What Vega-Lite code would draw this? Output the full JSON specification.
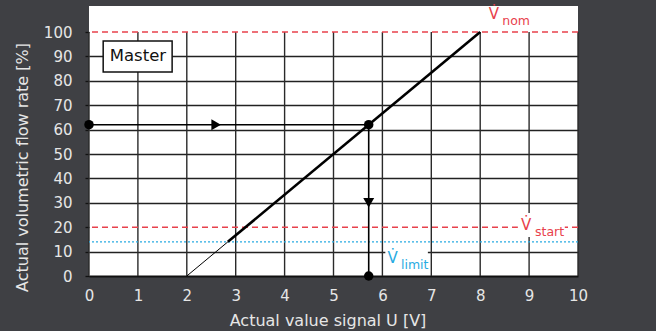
{
  "$schema": "https://vega.github.io/schema/vega-lite/v6.json",
  "width": 489,
  "height": 270,
  "autosize": {"type": "none"},
  "padding": {"left": 89, "top": 6, "right": 78, "bottom": 55},
  "background": "#3f4044",
  "config": {"view": {"fill": "white", "stroke": null}, "font": "DejaVu Sans"},
  "datasets": {
    "grid": [{"u": 0}, {"u": 1}, {"u": 2}, {"u": 3}, {"u": 4}, {"u": 5}, {"u": 6}, {"u": 7}, {"u": 8}, {"u": 9}, {"u": 10}],
    "refs": [{"v": 100}, {"v": 20}],
    "segs": [
      {"x": 2, "y": 0, "x2": 2.84, "y2": 14, "kind": "thin"},
      {"x": 2.84, "y": 14, "x2": 8, "y2": 100, "kind": "thick"},
      {"x": 0, "y": 62, "x2": 5.72, "y2": 62, "kind": "arrow"},
      {"x": 5.72, "y": 62, "x2": 5.72, "y2": 0, "kind": "arrow"}
    ],
    "masks": [
      {"x": 8.77, "x2": 9.73, "y": 16, "y2": 25.8},
      {"x": 6.06, "x2": 6.93, "y": 2.5, "y2": 12.5}
    ],
    "box": [{"x": 0.29, "x2": 1.7, "y": 83.6, "y2": 96.3, "t": "Master", "cx": 1.0, "cy": 90}],
    "pts": [
      {"x": 0, "y": 62, "kind": "dot"},
      {"x": 5.72, "y": 62, "kind": "dot"},
      {"x": 5.72, "y": 0, "kind": "dot"},
      {"x": 2.6, "y": 62, "kind": "right"},
      {"x": 5.72, "y": 30, "kind": "down"}
    ],
    "labels": [
      {"x": 8.28, "y": 105.3, "t": "V\u0307", "grp": "nom", "part": "main"},
      {"x": 8.45, "y": 102.9, "t": "nom", "grp": "nom", "part": "sub"},
      {"x": 8.94, "y": 18.9, "t": "V\u0307", "grp": "start", "part": "main"},
      {"x": 9.12, "y": 16.4, "t": "start", "grp": "start", "part": "sub"},
      {"x": 6.21, "y": 5.3, "t": "V\u0307", "grp": "limit", "part": "main"},
      {"x": 6.38, "y": 2.9, "t": "limit", "grp": "limit", "part": "sub"}
    ]
  },
  "layer": [
    {
      "data": {"name": "grid"},
      "mark": {"type": "rule", "color": "#2a2a2a", "strokeWidth": 1.4},
      "encoding": {
        "x": {
          "field": "u", "type": "quantitative",
          "scale": {"domain": [0, 10], "nice": false},
          "axis": {
            "title": "Actual value signal U [V]",
            "values": [0, 1, 2, 3, 4, 5, 6, 7, 8, 9, 10],
            "grid": false, "ticks": false,
            "domain": true, "domainColor": "#111", "domainWidth": 2,
            "labelColor": "#e6e6e6", "labelFontSize": 15, "labelPadding": 12, "labelFlush": false, "labelOverlap": false,
            "titleColor": "#e6e6e6", "titleFontSize": 16, "titleFontWeight": "normal",
            "titleX": 238.5, "titleY": 49, "titleBaseline": "alphabetic"
          }
        },
        "y": {"datum": 0, "type": "quantitative", "scale": {"domain": [0, 110.66], "nice": false}},
        "y2": {"datum": 100}
      }
    },
    {
      "data": {"name": "refs"},
      "mark": {"type": "rule", "color": "#e8414c", "strokeWidth": 1.4, "strokeDash": [6, 4]},
      "encoding": {
        "y": {
          "field": "v", "type": "quantitative",
          "axis": {
            "title": "Actual volumetric flow rate [%]",
            "values": [0, 10, 20, 30, 40, 50, 60, 70, 80, 90, 100],
            "tickCount": 11,
            "domain": false,
            "grid": true, "gridColor": "#222", "gridWidth": 1.3,
            "gridOpacity": {"condition": {"test": "datum.value == 0 || datum.value == 20 || datum.value == 100", "value": 0}, "value": 1},
            "ticks": true, "tickSize": 4, "tickColor": "#111", "tickWidth": 1.3,
            "labelColor": "#e6e6e6", "labelFontSize": 15, "labelPadding": 13, "labelOverlap": false,
            "titleColor": "#e6e6e6", "titleFontSize": 16, "titleFontWeight": "normal",
            "titleX": -67, "titleY": 161, "titleBaseline": "middle"
          }
        }
      }
    },
    {
      "data": {"values": [{"v": 14}]},
      "mark": {"type": "rule", "color": "#29abe2", "strokeWidth": 1.3, "strokeDash": [2, 2]},
      "encoding": {"y": {"field": "v", "type": "quantitative"}}
    },
    {
      "data": {"name": "masks"},
      "mark": {"type": "rect", "fill": "white"},
      "encoding": {
        "x": {"field": "x", "type": "quantitative"},
        "x2": {"field": "x2"},
        "y": {"field": "y", "type": "quantitative"},
        "y2": {"field": "y2"}
      }
    },
    {
      "data": {"name": "segs"},
      "transform": [{"filter": "datum.kind == 'thin'"}],
      "mark": {"type": "rule", "color": "#000", "strokeWidth": 1},
      "encoding": {
        "x": {"field": "x", "type": "quantitative"},
        "x2": {"field": "x2"},
        "y": {"field": "y", "type": "quantitative"},
        "y2": {"field": "y2"}
      }
    },
    {
      "data": {"name": "segs"},
      "transform": [{"filter": "datum.kind == 'thick'"}],
      "mark": {"type": "rule", "color": "#000", "strokeWidth": 2.6},
      "encoding": {
        "x": {"field": "x", "type": "quantitative"},
        "x2": {"field": "x2"},
        "y": {"field": "y", "type": "quantitative"},
        "y2": {"field": "y2"}
      }
    },
    {
      "data": {"name": "segs"},
      "transform": [{"filter": "datum.kind == 'arrow'"}],
      "mark": {"type": "rule", "color": "#000", "strokeWidth": 1.6},
      "encoding": {
        "x": {"field": "x", "type": "quantitative"},
        "x2": {"field": "x2"},
        "y": {"field": "y", "type": "quantitative"},
        "y2": {"field": "y2"}
      }
    },
    {
      "data": {"name": "box"},
      "mark": {"type": "rect", "fill": "white", "stroke": "#111", "strokeWidth": 1.5},
      "encoding": {
        "x": {"field": "x", "type": "quantitative"},
        "x2": {"field": "x2"},
        "y": {"field": "y", "type": "quantitative"},
        "y2": {"field": "y2"}
      }
    },
    {
      "data": {"name": "box"},
      "mark": {"type": "text", "fontSize": 16.5, "color": "#111", "align": "center", "baseline": "middle"},
      "encoding": {
        "x": {"field": "cx", "type": "quantitative"},
        "y": {"field": "cy", "type": "quantitative"},
        "text": {"field": "t"}
      }
    },
    {
      "data": {"name": "pts"},
      "mark": {"type": "point", "filled": true, "color": "#000", "opacity": 1},
      "encoding": {
        "x": {"field": "x", "type": "quantitative"},
        "y": {"field": "y", "type": "quantitative"},
        "shape": {"field": "kind", "type": "nominal", "scale": {"domain": ["dot", "right", "down"], "range": ["circle", "triangle-right", "triangle-down"]}, "legend": null},
        "size": {"field": "kind", "type": "nominal", "scale": {"type": "ordinal", "domain": ["dot", "right", "down"], "range": [90, 120, 120]}, "legend": null}
      }
    },
    {
      "data": {"name": "labels"},
      "transform": [{"filter": "datum.part == 'main'"}],
      "mark": {"type": "text", "fontSize": 15, "align": "center", "baseline": "alphabetic"},
      "encoding": {
        "x": {"field": "x", "type": "quantitative"},
        "y": {"field": "y", "type": "quantitative"},
        "text": {"field": "t"},
        "color": {"field": "grp", "type": "nominal", "scale": {"domain": ["nom", "start", "limit"], "range": ["#e8414c", "#e8414c", "#29abe2"]}, "legend": null}
      }
    },
    {
      "data": {"name": "labels"},
      "transform": [{"filter": "datum.part == 'sub'"}],
      "mark": {"type": "text", "fontSize": 12.5, "align": "left", "baseline": "alphabetic"},
      "encoding": {
        "x": {"field": "x", "type": "quantitative"},
        "y": {"field": "y", "type": "quantitative"},
        "text": {"field": "t"},
        "color": {"field": "grp", "type": "nominal", "scale": {"domain": ["nom", "start", "limit"], "range": ["#e8414c", "#e8414c", "#29abe2"]}, "legend": null}
      }
    }
  ]
}
